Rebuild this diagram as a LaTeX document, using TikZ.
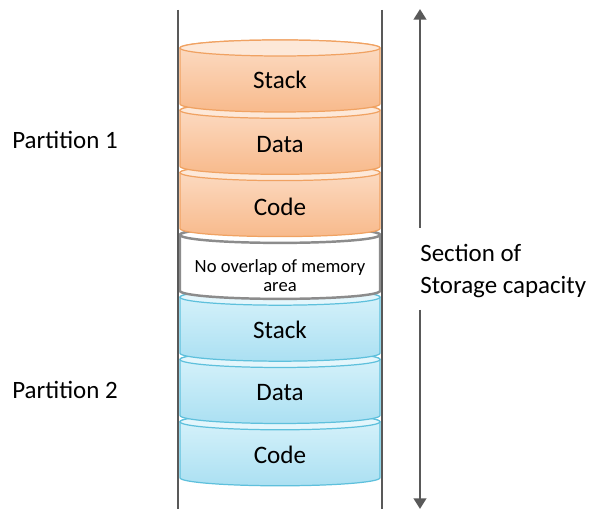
\documentclass[tikz,border=0pt]{standalone}
\usepackage{fontspec}
\setmainfont{Carlito}
\usetikzlibrary{arrows.meta}

\definecolor{wallgray}{HTML}{595959}
\definecolor{peachcap}{HTML}{FDE8D8}
\definecolor{peachlight}{HTML}{FCDDC6}
\definecolor{peachdark}{HTML}{F8BA8C}
\definecolor{peachline}{HTML}{F0A262}
\definecolor{skycap}{HTML}{E3F6FC}
\definecolor{skylight}{HTML}{D9F3FB}
\definecolor{skydark}{HTML}{ABE0F2}
\definecolor{skyline}{HTML}{5EC0DC}
\definecolor{plainline}{HTML}{8C8C8C}

\begin{document}
\begin{tikzpicture}[x=0.02cm,y=0.02cm]

    % Moldura da figura
    \useasboundingbox (0,0) rectangle (589,509);

    % Meia altura das elipses e passo entre os discos
    \def\ry{8}
    \def\gap{62.3}

    % Estilos dos discos
    \tikzstyle{orangebody} = [draw=peachline, line width=0.7pt,
      top color=peachlight, bottom color=peachdark];
    \tikzstyle{orangecap} = [draw=peachline, line width=0.7pt, fill=peachcap];
    \tikzstyle{bluebody} = [draw=skyline, line width=0.7pt,
      top color=skylight, bottom color=skydark];
    \tikzstyle{bluecap} = [draw=skyline, line width=0.7pt, fill=skycap];
    \tikzstyle{whitebody} = [draw=plainline, line width=1.4pt, fill=white];
    \tikzstyle{whitecap} = [draw=plainline, line width=1.4pt, fill=white];
    \tikzstyle{disklabel} = [font=\fontsize{14.3}{16}\selectfont, align=center];
    \tikzstyle{smalllabel} = [font=\fontsize{10.6}{10.9}\selectfont, align=center];
    \tikzstyle{wall} = [draw=wallgray, line width=1.7pt];
    \tikzstyle{capline} = [draw=wallgray, line width=1.7pt,
      -{Triangle[width=7pt,length=6pt]}];
    \tikzstyle{sidelabel} = [font=\fontsize{14.2}{18}\selectfont, align=left];

    % Discos, de baixo para cima
    \foreach \i/\name/\lbl/\dy/\body/\cap/\txt in {
      7/codeB/Code/1/bluebody/bluecap/disklabel,
      6/dataB/Data/1/bluebody/bluecap/disklabel,
      5/stackB/Stack/1/bluebody/bluecap/disklabel,
      4/free/{No overlap of memory\\area}/9/whitebody/whitecap/smalllabel,
      3/codeA/Code/2/orangebody/orangecap/disklabel,
      2/dataA/Data/2/orangebody/orangecap/disklabel,
      1/stackA/Stack/0/orangebody/orangecap/disklabel}
    {
      \pgfmathsetmacro{\C}{509-80-\gap*(\i-1)}
      \path[\body] (180,\C+32) -- (180,\C-24)
        arc[start angle=180, end angle=360, x radius=100, y radius=\ry]
        -- (380,\C+32)
        arc[start angle=0, end angle=180, x radius=100, y radius=\ry] -- cycle;
      \path[\cap] (280,\C+32) ellipse [x radius=100, y radius=\ry];
      \node[\txt] (\name) at (280,\C-\dy) {\lbl};
    }

    % Paredes
    \draw[wall] (178,499) -- (178,0);
    \draw[wall] (382,499) -- (382,0);

    % Textos laterais
    \node[sidelabel] (part1) at (65,369) {Partition 1};
    \node[sidelabel] (part2) at (65,119) {Partition 2};
    \node[sidelabel, anchor=west, inner sep=0pt] (capacity) at (420,238)
      {Section of\\Storage capacity};

    % Setas da capacidade
    \coordinate (captop) at (420,500);
    \coordinate (capupend) at (420,281);
    \coordinate (capdownstart) at (420,199);
    \coordinate (capbot) at (420,0);
    \draw[capline] (capupend) -- (captop);
    \draw[capline] (capdownstart) -- (capbot);
  \end{tikzpicture}
\end{document}
